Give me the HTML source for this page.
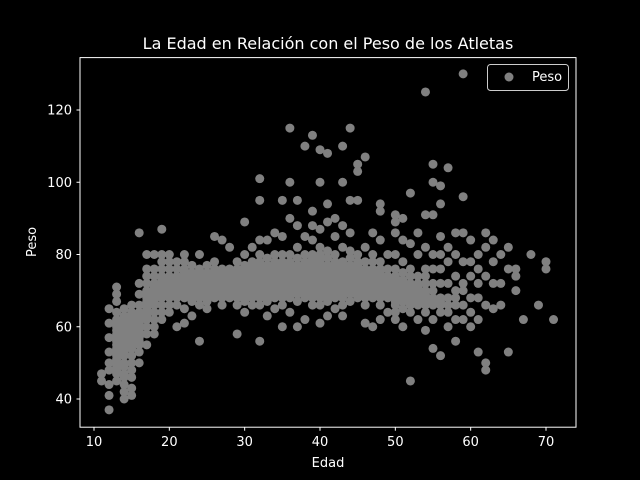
<!DOCTYPE html>
<html><head><meta charset="utf-8"><style>
body{margin:0;background:#000;}
svg{display:block;font-family:"DejaVu Sans","Liberation Sans",sans-serif;}
</style></head><body>
<svg id="chart" width="640" height="480">
<rect width="640" height="480" fill="#000"/>
<g id="pts"></g>
<rect x="80" y="57.6" width="496" height="369.6" fill="none" stroke="#fff" stroke-width="1"/>
<g id="axes"></g>
<text x="328" y="49" fill="#fff" font-size="16" text-anchor="middle">La Edad en Relación con el Peso de los Atletas</text>
<text x="328" y="467" fill="#fff" font-size="13" text-anchor="middle">Edad</text>
<text x="0" y="0" transform="translate(36,242) rotate(-90)" fill="#fff" font-size="13" text-anchor="middle">Peso</text>
<g>
<rect x="487.5" y="64.5" width="81" height="26" rx="3" fill="#000" stroke="#ccc" stroke-width="1"/>
<circle cx="509" cy="77" r="4.5" fill="#808080"/>
<text x="532" y="81" fill="#fff" font-size="13">Peso</text>
</g>
</svg>
<script>
const ages=[11,12,13,14,15,16,17,18,19,20,21,22,23,24,25,26,27,28,29,30,31,32,33,34,35,36,37,38,39,40,41,42,43,44,45,46,47,48,49,50,51,52,53,54,55,56,57,58,59,60,61,62,63,64,65,66,67,68,69,70,71];
const weights=[
[47,45],
[37,41,44,48,50,53,57,61,65],
[45,47,48,49,50,51,52,53,54,55,56,57,58,59,60,61,62,64,67,69,71],
[40,42,44,46,47,49,50,52,53,54,55,56,57,58,59,60,61,62,63,65],
[41,43,46,48,50,52,54,55,56,57,58,59,60,61,62,63,64,66],
[50,53,55,56,57,58,59,60,61,62,63,64,66,69,72,86],
[55,58,60,62,63,64,65,66,67,68,69,70,72,74,76,80],
[58,60,62,64,66,67,68,69,70,71,72,74,76,80],
[62,64,66,68,69,70,71,72,73,74,76,78,80,87],
[64,66,68,69,70,71,72,73,74,76,78,80],
[60,66,68,69,70,71,72,73,74,76,78],
[61,65,68,69,70,71,72,73,74,75,76,78,80],
[63,67,68,69,70,71,72,73,74,75,77],
[56,66,68,69,70,71,72,73,74,75,76,80],
[65,67,68,69,70,71,72,73,74,75,77],
[68,69,70,71,72,73,74,75,76,78,85],
[66,68,69,70,71,72,73,74,75,76,84],
[68,69,70,71,72,73,74,75,76,82],
[58,66,68,69,70,71,72,73,74,75,76,78],
[64,67,68,69,70,71,72,73,74,75,76,77,80,89],
[66,68,69,70,71,72,73,74,75,76,77,78,82],
[56,66,68,69,70,71,72,73,74,75,76,77,78,80,84,95,101],
[63,67,68,69,70,71,72,73,74,75,76,77,79,84],
[65,68,69,70,71,72,73,74,75,76,77,78,80,86],
[60,66,68,69,70,71,72,73,74,75,76,77,78,80,85,95],
[64,68,69,70,71,72,73,74,75,76,77,78,80,90,100,115],
[60,67,69,70,71,72,73,74,75,76,77,79,82,88,95],
[62,68,69,70,71,72,73,74,75,76,77,78,80,85,110],
[66,68,69,70,71,72,73,74,75,76,77,78,79,80,84,88,92,113],
[61,66,68,69,70,71,72,73,74,75,76,77,78,79,80,82,87,100,109],
[63,67,68,69,70,71,72,73,74,75,76,77,79,81,89,94,108],
[65,68,69,70,71,72,73,74,75,76,77,78,80,85,90],
[63,66,68,69,70,71,72,73,74,75,76,77,78,82,88,100,110],
[67,69,70,71,72,73,74,75,76,77,79,81,86,95,115],
[68,69,70,71,72,73,74,75,76,77,78,80,95,103,105],
[61,66,68,69,70,71,72,73,74,75,76,78,82,107],
[60,68,69,70,71,72,73,74,75,76,78,80,86],
[62,66,68,69,70,71,72,73,74,75,76,78,84,92,94],
[64,68,69,70,71,72,73,74,76,80],
[62,64,66,67,68,69,70,71,72,73,74,76,80,86,89,91],
[60,65,67,68,69,70,71,72,73,75,78,84,90],
[45,64,66,67,68,69,70,71,72,74,76,83,97],
[62,66,67,68,69,70,71,72,74,80,86],
[59,64,66,67,68,69,70,72,74,76,82,91,125],
[54,62,66,67,68,70,72,76,80,91,100,105],
[52,64,66,67,68,72,76,80,85,94,99],
[60,64,66,68,72,78,82,104],
[56,62,66,68,70,74,80,86],
[62,66,70,72,78,86,96,130],
[60,64,68,74,78,84],
[53,62,68,72,76,80],
[48,50,66,74,82,86],
[65,72,78,84],
[66,72,80],
[53,76,82],
[70,74,76],
[62],[80],[66],[76,78],[62]
];
const xTicks=[10,20,30,40,50,60,70];
const yTicks=[40,60,80,100,120];
const NS="http://www.w3.org/2000/svg";
const xs=v=>94+(v-10)*(452/60);
const ys=v=>399-(v-40)*(289/80);
const pts=document.getElementById('pts');
ages.forEach((a,i)=>{
  weights[i].forEach(w=>{
    const c=document.createElementNS(NS,'circle');
    c.setAttribute('cx',xs(a));c.setAttribute('cy',ys(w));c.setAttribute('r',4.5);
    c.setAttribute('fill','#808080');
    
    
    pts.appendChild(c);
  });
});
const ax=document.getElementById('axes');
xTicks.forEach(t=>{
  const l=document.createElementNS(NS,'line');
  l.setAttribute('x1',xs(t));l.setAttribute('x2',xs(t));l.setAttribute('y1',427.2);l.setAttribute('y2',430.7);l.setAttribute('stroke','#fff');
  
  
  ax.appendChild(l);
  const tx=document.createElementNS(NS,'text');
  tx.setAttribute('x',xs(t));tx.setAttribute('y',446);tx.setAttribute('fill','#fff');tx.setAttribute('font-size','13');tx.setAttribute('text-anchor','middle');
  tx.textContent=t;
  
  
  ax.appendChild(tx);
});
yTicks.forEach(t=>{
  const l=document.createElementNS(NS,'line');
  l.setAttribute('x1',76.5);l.setAttribute('x2',80);l.setAttribute('y1',ys(t));l.setAttribute('y2',ys(t));l.setAttribute('stroke','#fff');
  
  
  ax.appendChild(l);
  const tx=document.createElementNS(NS,'text');
  tx.setAttribute('x',72);tx.setAttribute('y',ys(t)+4.5);tx.setAttribute('fill','#fff');tx.setAttribute('font-size','13');tx.setAttribute('text-anchor','end');
  tx.textContent=t;
  
  
  ax.appendChild(tx);
});
</script>
</body></html>
